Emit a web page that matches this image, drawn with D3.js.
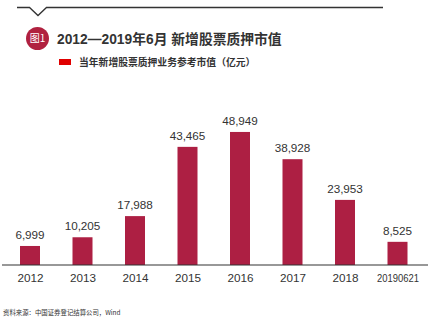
<!DOCTYPE html>
<html>
<head>
<meta charset="utf-8">
<script src="https://cdn.jsdelivr.net/npm/d3@7/dist/d3.min.js"></script>
<style>
  html, body { margin: 0; padding: 0; background: #fff; }
  svg { display: block; }
  text { font-family: "Liberation Sans", Arial, "Noto Sans CJK SC", sans-serif; }
</style>
</head>
<body>
<svg id="chart" width="433" height="323"></svg>
<script>
// Annual newly pledged stock market value (100 million yuan)
const categories = ["2012", "2013", "2014", "2015", "2016", "2017", "2018", "20190621"];
const values = [6999, 10205, 17988, 43465, 48949, 38928, 23953, 8525];
const valueLabels = ["6,999", "10,205", "17,988", "43,465", "48,949", "38,928", "23,953", "8,525"];

const titleText = "2012—2019年6月 新增股票质押市值";
const legendText = "当年新增股票质押业务参考市值（亿元）";
const sourceText = "资料来源：中国证券登记结算公司，Wind";

const svg = d3.select("#chart");
const barColor = "#AD1F43";
const ink = "#333333";

// Header rule with a small notch
svg.append("path")
  .attr("d", "M17,7.5 H29.5 L38,15.5 L46.5,7.5 H383")
  .attr("fill", "none")
  .attr("stroke", ink)
  .attr("stroke-width", 1.3);

// Figure badge
svg.append("circle")
  .attr("cx", 37.5).attr("cy", 38.5).attr("r", 11.5)
  .attr("fill", "#B0213F");
svg.append("text")
  .attr("x", 37.5).attr("y", 42)
  .attr("text-anchor", "middle")
  .attr("fill", "#fff")
  .attr("font-size", 10)
  .style("font-family", "'Noto Sans CJK SC', sans-serif")
  .text("图1");

// Title
svg.append("text")
  .attr("x", 57).attr("y", 43.5)
  .attr("fill", ink)
  .attr("font-size", 13.8)
  .attr("font-weight", "bold")
  .text(titleText);

// Legend
svg.append("rect")
  .attr("x", 59).attr("y", 59).attr("width", 12).attr("height", 6)
  .attr("fill", "#E00000");
svg.append("text")
  .attr("x", 79).attr("y", 66)
  .attr("fill", ink)
  .attr("font-size", 9.8)
  .attr("font-weight", "bold")
  .style("font-family", "'Noto Sans CJK SC', sans-serif")
  .text(legendText);

// Scales
const x = d3.scalePoint().domain(categories).range([3.75, 423.75]).padding(0.5);
const y = d3.scaleLinear().domain([0, 50000]).range([265, 129.1]);
const barW = 20;

const data = categories.map((c, i) => ({ c, v: values[i], label: valueLabels[i] }));

// Bars
svg.append("g").selectAll("rect")
  .data(data)
  .join("rect")
  .attr("x", d => x(d.c) - barW / 2)
  .attr("y", d => y(d.v))
  .attr("width", barW)
  .attr("height", d => y(0) - y(d.v))
  .attr("fill", barColor);

// Value labels
svg.append("g").selectAll("text")
  .data(data)
  .join("text")
  .attr("x", d => x(d.c))
  .attr("y", d => y(d.v) - 7)
  .attr("text-anchor", "middle")
  .attr("fill", ink)
  .attr("font-size", 11.7)
  .text(d => d.label);

// Category axis
const axis = svg.append("g")
  .attr("transform", `translate(0,${y(0)})`)
  .call(d3.axisBottom(x).tickSize(0).tickPadding(0));
axis.select(".domain").remove();
axis.append("line")
  .attr("x1", 2).attr("x2", 428)
  .attr("y1", 0).attr("y2", 0)
  .attr("stroke", ink).attr("stroke-width", 1.2);
axis.selectAll(".tick text")
  .attr("dy", null)
  .attr("y", 17)
  .attr("fill", ink)
  .attr("font-size", 11.7)
  .style("font-family", "'Liberation Sans', Arial, sans-serif")
  .each(function (d) {
    if (d.length > 4) {
      d3.select(this).attr("textLength", 42).attr("lengthAdjust", "spacingAndGlyphs");
    }
  });

// Source note
svg.append("text")
  .attr("x", 3).attr("y", 315)
  .attr("fill", ink)
  .attr("font-size", 6.4)
  .style("font-family", "'Noto Sans CJK SC', 'Liberation Sans', sans-serif")
  .text(sourceText);
</script>
</body>
</html>
